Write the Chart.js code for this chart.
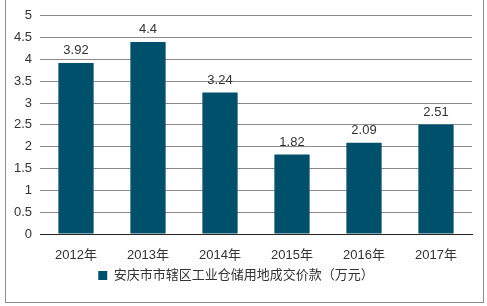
<!DOCTYPE html>
<html lang="zh">
<head>
<meta charset="UTF-8">
<title>安庆市市辖区工业仓储用地成交价款</title>
<script src="https://cdn.jsdelivr.net/npm/chart.js"></script>
<style>
  html, body { margin: 0; padding: 0; background: #fff; }
  #wrap { position: relative; width: 487px; height: 306px; }
  #frame { position: absolute; left: 5px; top: -1px; width: 477px; height: 302px; border: 1px solid #8c8c8c; }
</style>
</head>
<body>
<div id="wrap">
  <div id="frame"></div>
  <canvas id="myChart" width="487" height="306"></canvas>
</div>
<script>
  // 数据
  var years = ['2012年', '2013年', '2014年', '2015年', '2016年', '2017年'];
  var amounts = [3.92, 4.4, 3.24, 1.82, 2.09, 2.51];
  var seriesName = '安庆市市辖区工业仓储用地成交价款（万元）';
  var yTicks = [0, 0.5, 1, 1.5, 2, 2.5, 3, 3.5, 4, 4.5, 5];

  var FONT = '"Liberation Sans", Arial, "Noto Sans CJK SC", sans-serif';

  // 柱顶数值
  var barLabels = {
    id: 'barLabels',
    afterDatasetsDraw: function (chart) {
      var c = chart.ctx;
      var meta = chart.getDatasetMeta(0);
      c.save();
      c.font = '13px ' + FONT;
      c.fillStyle = '#333';
      c.textAlign = 'center';
      c.textBaseline = 'bottom';
      meta.data.forEach(function (bar, i) {
        c.fillText(String(amounts[i]), bar.x, bar.y - 6);
      });
      c.restore();
    }
  };

  var ctx = document.getElementById('myChart');
  new Chart(ctx, {
    type: 'bar',
    data: {
      labels: years,
      datasets: [{
        label: seriesName,
        data: amounts,
        backgroundColor: '#01506b',
        categoryPercentage: 1,
        barPercentage: 0.49
      }]
    },
    options: {
      responsive: false,
      animation: false,
      layout: { padding: { left: 0, right: 15, top: 15, bottom: 14 } },
      plugins: {
        tooltip: { enabled: false },
        legend: {
          position: 'bottom',
          labels: {
            font: { size: 13, family: FONT },
            color: '#333',
            boxWidth: 9,
            boxHeight: 9,
            padding: 8
          }
        }
      },
      scales: {
        x: {
          grid: { display: false },
          border: { color: '#222', width: 1 },
          ticks: { font: { size: 13, family: FONT }, color: '#333', padding: 6 },
          afterFit: function (s) { s.height = 27; }
        },
        y: {
          min: 0,
          max: 5,
          afterBuildTicks: function (s) { s.ticks = yTicks.map(function (v) { return { value: v }; }); },
          grid: {
            color: function (c) { return c.tick.value === 0 ? '#222' : '#8c8c8c'; },
            drawTicks: false
          },
          border: { display: false },
          ticks: {
            font: { size: 13, family: FONT }, color: '#333', padding: 8,
            callback: function (v) { return String(v); }
          },
          afterFit: function (s) { s.width = 40; }
        }
      }
    },
    plugins: [barLabels]
  });
</script>
</body>
</html>
